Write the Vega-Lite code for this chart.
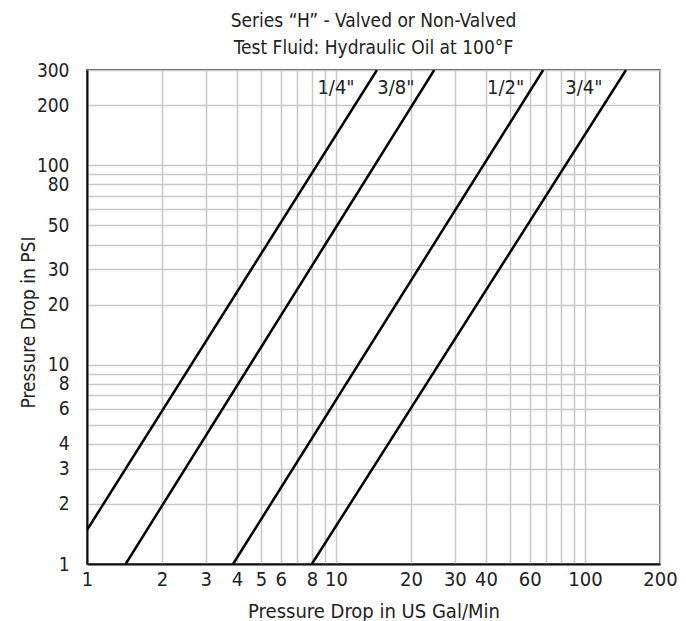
{
  "$schema": "https://vega.github.io/schema/vega-lite/v6.json",
  "width": 573,
  "height": 494,
  "autosize": "none",
  "padding": {"left": 87, "top": 70, "right": 26, "bottom": 57},
  "config": {
    "font": "DejaVu Sans Condensed, Liberation Sans, sans-serif",
    "view": {"stroke": "#222", "strokeWidth": 1.5}
  },
  "title": {
    "text": ["Series “H” - Valved or Non-Valved", "Test Fluid: Hydraulic Oil at 100°F"],
    "fontSize": 19,
    "fontWeight": "normal",
    "color": "#222",
    "anchor": "middle",
    "lineHeight": 27,
    "offset": 3
  },
  "datasets": {
    "curves": [
      {"size": "1/4\"", "gpm": 1, "psi": 1.48},
      {"size": "1/4\"", "gpm": 14.6, "psi": 300},
      {"size": "3/8\"", "gpm": 1.43, "psi": 1},
      {"size": "3/8\"", "gpm": 24.8, "psi": 300},
      {"size": "1/2\"", "gpm": 3.86, "psi": 1},
      {"size": "1/2\"", "gpm": 67.9, "psi": 300},
      {"size": "3/4\"", "gpm": 8, "psi": 1},
      {"size": "3/4\"", "gpm": 146, "psi": 300}
    ],
    "labels": [
      {"size": "1/4\"", "gpm": 10, "psi": 244},
      {"size": "3/8\"", "gpm": 17.4, "psi": 244},
      {"size": "1/2\"", "gpm": 48, "psi": 244},
      {"size": "3/4\"", "gpm": 99, "psi": 244}
    ]
  },
  "encoding": {
    "x": {
      "field": "gpm",
      "type": "quantitative",
      "scale": {"type": "log", "domain": [1, 200], "nice": false},
      "axis": {
        "title": "Pressure Drop in US Gal/Min",
        "values": [1,2,3,4,5,6,7,8,9,10,20,30,40,50,60,70,80,90,100,200],
        "format": "d",
        "labelExpr": "indexof([1,2,3,4,5,6,8,10,20,30,40,60,100,200], datum.value) >= 0 ? datum.label : ''",
        "labelFontSize": 20,
        "labelColor": "#222",
        "labelPadding": 5,
        "labelFlush": false,
        "labelOverlap": false,
        "ticks": false,
        "domainColor": "#111",
        "domainWidth": 2,
        "grid": true,
        "gridColor": "#c8c8c8",
        "gridWidth": 1.5,
        "titleFontSize": 20,
        "titleFontWeight": "normal",
        "titleColor": "#222",
        "titleBaseline": "alphabetic",
        "titleY": 53
      }
    },
    "y": {
      "field": "psi",
      "type": "quantitative",
      "scale": {"type": "log", "domain": [1, 300], "nice": false},
      "axis": {
        "title": "Pressure Drop in PSI",
        "values": [1,2,3,4,5,6,7,8,9,10,20,30,40,50,60,70,80,90,100,200,300],
        "format": "d",
        "labelExpr": "indexof([1,2,3,4,6,8,10,20,30,50,80,100,200,300], datum.value) >= 0 ? datum.label : ''",
        "labelFontSize": 19,
        "labelColor": "#222",
        "labelPadding": 18,
        "labelFlush": false,
        "labelOverlap": false,
        "ticks": false,
        "domainColor": "#111",
        "domainWidth": 2,
        "grid": true,
        "gridColor": "#c8c8c8",
        "gridWidth": 1.5,
        "titleFontSize": 19,
        "titleFontWeight": "normal",
        "titleColor": "#222",
        "titleX": -53,
        "titleY": 252,
        "titleAngle": -90,
        "titleAlign": "center",
        "titleBaseline": "alphabetic"
      }
    }
  },
  "layer": [
    {
      "data": {"name": "curves"},
      "mark": {"type": "line", "color": "#000", "strokeWidth": 2.5, "clip": true},
      "encoding": {"detail": {"field": "size"}}
    },
    {
      "data": {"name": "labels"},
      "mark": {"type": "text", "fontSize": 20, "color": "#222", "align": "center", "baseline": "middle"},
      "encoding": {"text": {"field": "size"}}
    }
  ]
}
